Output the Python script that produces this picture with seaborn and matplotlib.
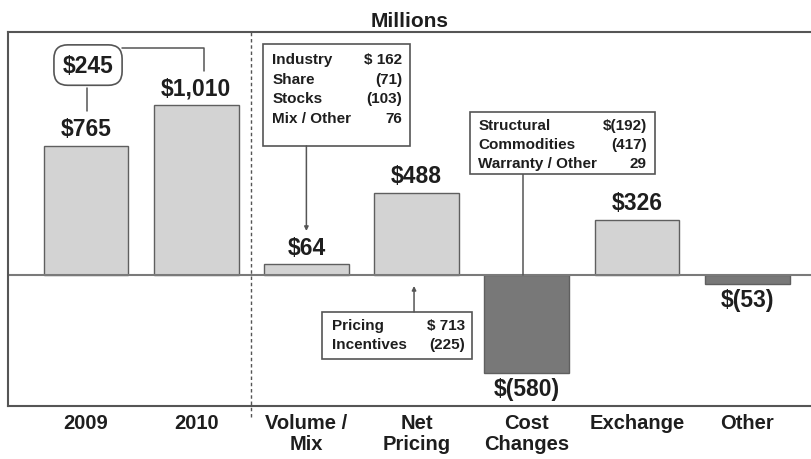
import matplotlib
matplotlib.use('Agg')
import matplotlib.pyplot as plt
import seaborn as sns
import pandas as pd
from matplotlib.patches import Rectangle

categories = ['2009', '2010', 'Volume /\nMix', 'Net\nPricing', 'Cost\nChanges', 'Exchange', 'Other']
values = [765, 1010, 64, 488, -580, 326, -53]
value_labels = ['$765', '$1,010', '$64', '$488', '$(580)', '$326', '$(53)']
increase_label = '$245'

volume_items = ['Industry', 'Share', 'Stocks', 'Mix / Other']
volume_values = ['$ 162', '(71)', '(103)', '76']
pricing_items = ['Pricing', 'Incentives']
pricing_values = ['$ 713', '(225)']
cost_items = ['Structural', 'Commodities', 'Warranty / Other']
cost_values = ['$(192)', '(417)', '29']

light = '#d3d3d3'
dark = '#787878'
edge = '#5f5f5f'
ink = '#1e1e1e'

sns.set_theme(style='white')
plt.rcParams['font.family'] = ['Liberation Sans', 'DejaVu Sans']
plt.rcParams['font.weight'] = 'bold'

df = pd.DataFrame({'cat': categories, 'val': values})
colors = [light if v > 0 else dark for v in values]

fig = plt.figure(figsize=(8.11, 4.6), dpi=100)
ax = fig.add_axes([0.0099, 0.1152, 0.9901, 0.8130])

sns.barplot(data=df, x='cat', y='val', hue='cat', palette=colors, legend=False,
            width=0.77, edgecolor=edge, linewidth=1.0, saturation=1, ax=ax)

ax.set_xlim(-0.708, 6.58)
ax.set_ylim(-777, 1441)
ax.axhline(0, color='#7a7a7a', lw=1.5, zorder=1)

# value labels
for i, (v, lab) in enumerate(zip(values, value_labels)):
    if v >= 0:
        ax.annotate(lab, (i, v), xytext=(0, 4), textcoords='offset points',
                    ha='center', va='bottom', fontsize=16.5, fontweight='bold', color=ink)
    else:
        ax.annotate(lab, (i, v), xytext=(0, -3), textcoords='offset points',
                    ha='center', va='top', fontsize=16.5, fontweight='bold', color=ink)

# frame and ticks
for s in ['left', 'top', 'bottom']:
    ax.spines[s].set_visible(True)
    ax.spines[s].set_color('#555555')
    ax.spines[s].set_linewidth(1.5)
ax.spines['right'].set_visible(False)
ax.set_xlabel('')
ax.set_ylabel('')
ax.set_yticks([])
ax.set_xticks(range(len(categories)))
ax.set_xticklabels(categories, fontsize=14.5, fontweight='bold', color=ink, linespacing=1.15)
ax.tick_params(axis='x', which='major', length=0, pad=5)
ax.set_xticks([0.5, 2.5, 3.5, 4.5, 5.5], minor=True)
ax.tick_params(axis='x', which='minor', direction='in', length=7, width=1, color='#666666')
ax.set_title('Millions', fontsize=15, fontweight='bold', pad=4, color=ink)

# dashed divider
ax.axvline(1.5, ymin=-0.03, ymax=1, color='#555555', lw=1, ls=(0, (2.5, 2)), clip_on=False)

# $245 increase callout
ax.text(0.018, 1245, increase_label, ha='center', va='center', fontsize=16.5, fontweight='bold',
        color=ink,
        bbox=dict(boxstyle='round,pad=0.38,rounding_size=0.6', fc='white', ec='#555555', lw=1.2))
ax.plot([0.33, 1.071, 1.071], [1346, 1346, 1210], color='#555555', lw=1.1)
ax.plot([0.009, 0.009], [1112, 973], color='#555555', lw=1.1)


def breakdown_box(x0, x1, y0, y1, xl, xr, ytop, step, items, vals):
    ax.add_patch(Rectangle((x0, y0), x1 - x0, y1 - y0, fc='white', ec='#555555', lw=1.2, zorder=3))
    for k, (it, vv) in enumerate(zip(items, vals)):
        y = ytop - k * step
        ax.text(xl, y, it, ha='left', va='center', fontsize=11, fontweight='bold', color=ink, zorder=4)
        ax.text(xr, y, vv, ha='right', va='center', fontsize=11, fontweight='bold', color=ink, zorder=4)


breakdown_box(1.607, 2.941, 765, 1370, 1.69, 2.87, 1281, 117, volume_items, volume_values)
breakdown_box(3.486, 5.165, 599, 967, 3.56, 5.09, 890, 113, cost_items, cost_values)
breakdown_box(2.142, 3.504, -498, -219, 2.23, 3.44, -297, 112, pricing_items, pricing_values)

arrow = dict(arrowstyle='-|>', color='#555555', lw=1.1, mutation_scale=6, shrinkA=0, shrinkB=0)
ax.annotate('', xy=(2.0, 261), xytext=(2.0, 765), arrowprops=arrow)
ax.annotate('', xy=(2.977, -65), xytext=(2.977, -219), arrowprops=arrow)
ax.plot([3.967, 3.967], [599, 0], color='#555555', lw=1.1, zorder=2)

fig.savefig('out.png', dpi=100)
